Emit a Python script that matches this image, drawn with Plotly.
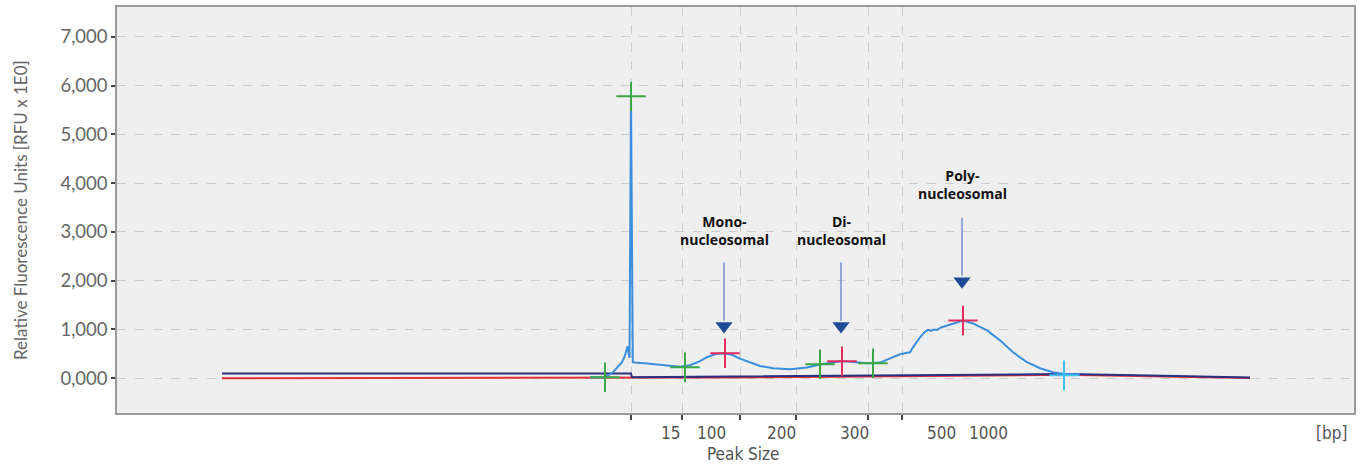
import plotly.graph_objects as go

# ---- data (x = migration position, y = RFU) ----
blue_x = [473, 481, 488, 496, 501, 505, 508, 510, 510.5, 512.5, 514, 515.8, 518, 530, 543, 563, 573,
          583, 590, 598, 607, 615, 623, 633, 643, 656, 673, 690, 703, 716, 725, 736, 750, 763, 773,
          783, 793, 796, 803, 808, 811, 814, 817, 820, 824, 836, 846, 856, 870, 883, 896, 910, 923,
          936, 946, 963]
blue_y = [15, 18, 20, 122, 240, 327, 469, 580, 650, 420, 5780, 330, 320, 300, 280, 235, 265,
          350, 430, 490, 510, 480, 400, 320, 250, 204, 184, 220, 280, 320, 350, 330, 305, 320, 408,
          490, 531, 633, 837, 950, 990, 970, 1000, 990, 1040, 1122, 1184, 1122, 980, 776, 531, 327, 204,
          122, 90, 72]

navy_x = [105, 514, 515, 623, 783, 883, 947, 1033, 1133]
navy_y = [95, 95, 20, 35, 60, 80, 85, 55, 12]

red_x = [105, 483, 623, 783, 883, 947, 1033, 1133]
red_y = [0, 5, 15, 40, 60, 70, 40, 2]

green_x = [488, 514, 568, 703, 756]
green_y = [20, 5780, 224, 286, 306]
pink_x = [608, 725, 846]
pink_y = [510, 347, 1184]
cyan_x = [947]
cyan_y = [61]

grid_x = [514, 565, 623, 679, 751, 785]
size_labels = ["15", "100", "200", "300", "500", "1000"]
size_label_x = [553, 594, 664, 737, 824, 871]

y_ticks = [0, 1000, 2000, 3000, 4000, 5000, 6000, 7000]
y_ticktext = ["0,000", "1,000", "2,000", "3,000", "4,000", "5,000", "6,000", "7,000"]

peak_names = ["Mono-<br>nucleosomal", "Di-<br>nucleosomal", "Poly-<br>nucleosomal"]
peak_x = [607, 724, 845]
text_y = [2600, 2600, 3560]
shaft_top = [2370, 2370, 3290]
shaft_bot = [1180, 1180, 2100]
head_y = [1070, 1070, 1990]

fig = go.Figure()
fig.add_trace(go.Scatter(x=red_x, y=red_y, mode="lines", line=dict(color="#e8303a", width=2), hoverinfo="skip"))
fig.add_trace(go.Scatter(x=navy_x, y=navy_y, mode="lines", line=dict(color="#2b2f80", width=2), hoverinfo="skip"))
fig.add_trace(go.Scatter(x=blue_x, y=blue_y, mode="lines", line=dict(color="#3b8ede", width=2), hoverinfo="skip"))

mk = dict(symbol="cross-thin", size=21)
fig.add_trace(go.Scatter(x=green_x, y=green_y, mode="markers",
                         marker=dict(**mk, line=dict(color="#3aa845", width=2))))
fig.add_trace(go.Scatter(x=pink_x, y=pink_y, mode="markers",
                         marker=dict(**mk, line=dict(color="#e22c5e", width=2))))
fig.add_trace(go.Scatter(x=cyan_x, y=cyan_y, mode="markers",
                         marker=dict(**mk, line=dict(color="#3ec0ea", width=2))))

# arrow heads
fig.add_trace(go.Scatter(x=peak_x, y=head_y, mode="markers",
                         marker=dict(symbol="triangle-down", size=15, color="#1f4a96")))

for px, t0, t1 in zip(peak_x, shaft_top, shaft_bot):
    fig.add_shape(type="line", x0=px, x1=px, y0=t0, y1=t1, line=dict(color="#5b86c5", width=1.3))

for name, px, ty in zip(peak_names, peak_x, text_y):
    bold = "<b>" + name.replace("<br>", "</b><br><b>") + "</b>"
    fig.add_annotation(x=px, y=ty, text=bold, showarrow=False, xanchor="center", yanchor="bottom",
                       font=dict(family="Open Sans", size=14, color="#111111"))

axis_font = dict(family="Liberation Sans Narrow, DejaVu Sans Condensed, sans-serif", size=17, color="#555555")
for lab, lx in zip(size_labels, size_label_x):
    fig.add_annotation(x=lx, y=-0.049, xref="x", yref="paper", text=lab, showarrow=False,
                       xanchor="center", yanchor="middle", font=axis_font)
fig.add_annotation(x=626, y=-0.1, xref="x", yref="paper", text="Peak Size", showarrow=False,
                   xanchor="center", yanchor="middle", font=axis_font)
fig.add_annotation(x=1214, y=-0.049, xref="x", yref="paper", text="[bp]", showarrow=False,
                   xanchor="center", yanchor="middle", font=axis_font)
fig.add_annotation(x=-0.0784, y=0.5, xref="paper", yref="paper", text="Relative Fluorescence Units [RFU x 1E0]",
                   showarrow=False, textangle=-90, xanchor="center", yanchor="middle",
                   font=dict(family="Lato", size=17, color="#666666"))

fig.update_layout(
    width=1362, height=466,
    margin=dict(l=117, r=8, t=5, b=53),
    paper_bgcolor="white", plot_bgcolor="#efefef",
    showlegend=False,
)
fig.update_xaxes(range=[0, 1237], tickvals=grid_x, showticklabels=False,
                 ticks="outside", ticklen=5, tickcolor="#444444", tickwidth=1.5,
                 showgrid=True, gridcolor="#cccccc", griddash="dash", gridwidth=1,
                 showline=True, mirror=True, linecolor="#9a9a9a", linewidth=1.5, zeroline=False)
fig.update_yaxes(range=[-714, 7612], tickvals=y_ticks, ticktext=y_ticktext,
                 ticks="outside", ticklen=4, tickcolor="#444444", tickwidth=1.5,
                 tickfont=dict(family="Lato", size=18.5, color="#666666"),
                 showgrid=True, gridcolor="#cccccc", griddash="dash", gridwidth=1,
                 showline=True, mirror=True, linecolor="#9a9a9a", linewidth=1.5, zeroline=False)

fig.write_html("out.html", config={"displayModeBar": False},
               post_script="document.body.style.margin='0px';document.body.style.overflow='hidden';")
